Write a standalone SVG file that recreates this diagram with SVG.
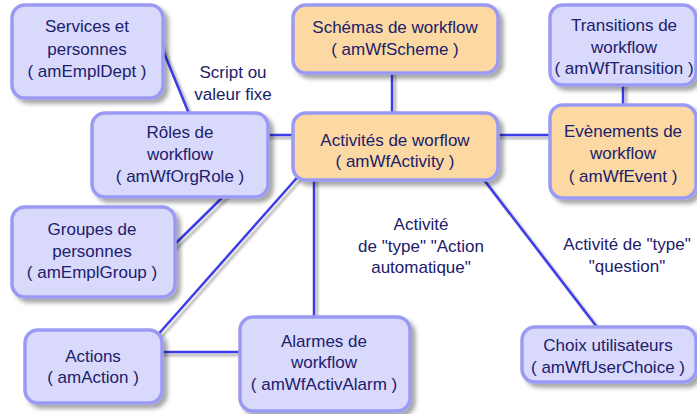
<svg xmlns="http://www.w3.org/2000/svg" width="697" height="414" viewBox="0 0 697 414">
<defs>
<filter id="sh" x="-10%" y="-10%" width="130%" height="140%">
<feDropShadow dx="4" dy="4" stdDeviation="2" flood-color="#000" flood-opacity="0.35"/>
</filter>
<filter id="lsh" x="-20%" y="-20%" width="140%" height="140%">
<feDropShadow dx="3" dy="3" stdDeviation="1" flood-color="#000" flood-opacity="0.3"/>
</filter>
</defs>
<style>
.b{fill:#d9d9fc;stroke:#9a9af4;stroke-width:3.5}
.o{fill:#fcd9a2;stroke:#9a9af4;stroke-width:3.5}
text{font-family:"Liberation Sans",Arial,sans-serif;font-size:17px;fill:#20206b;text-anchor:middle}
.c line{stroke:#3c3ce8;stroke-width:2.5}
</style>
<rect width="697" height="414" fill="#fff"/>
<g id="connectors" class="c" filter="url(#lsh)">
<line x1="160" y1="43" x2="192" y2="121"/>
<line x1="230" y1="190" x2="170" y2="249"/>
<line x1="303" y1="171" x2="155" y2="338"/>
<line x1="481" y1="176" x2="600" y2="331"/>
<line x1="314" y1="175" x2="314" y2="322"/>
<line x1="158" y1="352" x2="244" y2="352"/>
<line x1="264" y1="135" x2="297" y2="135"/>
<line x1="494" y1="135" x2="554" y2="135"/>
<line x1="392" y1="70" x2="392" y2="116"/>
<line x1="623" y1="82" x2="623" y2="108"/>
</g>
<g id="n-empldept"><rect class="b" filter="url(#sh)" x="12" y="5" width="151" height="93" rx="13"/>
<text x="87" y="32">Services et</text><text x="87" y="55">personnes</text><text x="87" y="77">( amEmplDept )</text></g>
<g id="n-orgrole"><rect class="b" filter="url(#sh)" x="92" y="113" width="176" height="84" rx="13"/>
<text x="180" y="138">Rôles de</text><text x="180" y="160">workflow</text><text x="180" y="182">( amWfOrgRole )</text></g>
<g id="n-scheme"><rect class="o" filter="url(#sh)" x="293" y="5" width="205" height="68" rx="13"/>
<text x="395" y="33">Schémas de workflow</text><text x="395" y="55">( amWfScheme )</text></g>
<g id="n-activity"><rect class="o" filter="url(#sh)" x="293" y="113" width="205" height="67" rx="13"/>
<text x="395" y="146">Activités de worflow</text><text x="395" y="167">( amWfActivity )</text></g>
<g id="n-transition"><rect class="b" filter="url(#sh)" x="550" y="5" width="146" height="80" rx="13"/>
<text x="624" y="31">Transitions de</text><text x="624" y="53">workflow</text><text x="624" y="74">( amWfTransition )</text></g>
<g id="n-event"><rect class="o" filter="url(#sh)" x="550" y="105" width="146" height="93" rx="13"/>
<text x="623" y="137">Evènements de</text><text x="623" y="159">workflow</text><text x="623" y="182">( amWfEvent )</text></g>
<g id="n-emplgroup"><rect class="b" filter="url(#sh)" x="12" y="207" width="163" height="90" rx="13"/>
<text x="92" y="235">Groupes de</text><text x="92" y="257">personnes</text><text x="92" y="278">( amEmplGroup )</text></g>
<g id="n-action"><rect class="b" filter="url(#sh)" x="25" y="330" width="137" height="73" rx="13"/>
<text x="93" y="362">Actions</text><text x="93" y="383">( amAction )</text></g>
<g id="n-alarm"><rect class="b" filter="url(#sh)" x="240" y="317" width="170" height="94" rx="13"/>
<text x="324" y="347">Alarmes de</text><text x="324" y="368">workflow</text><text x="324" y="390">( amWfActivAlarm )</text></g>
<g id="n-userchoice"><rect class="b" filter="url(#sh)" x="522" y="327" width="174" height="55" rx="13"/>
<text x="608" y="351">Choix utilisateurs</text><text x="608" y="373">( amWfUserChoice )</text></g>
<g id="labels">
<text x="233" y="78">Script ou</text><text x="233" y="100">valeur fixe</text>
<text x="421" y="230">Activité</text><text x="421" y="252">de "type" "Action</text><text x="421" y="273">automatique"</text>
<text x="627" y="250">Activité de "type"</text><text x="627" y="272">"question"</text>
</g>
</svg>
